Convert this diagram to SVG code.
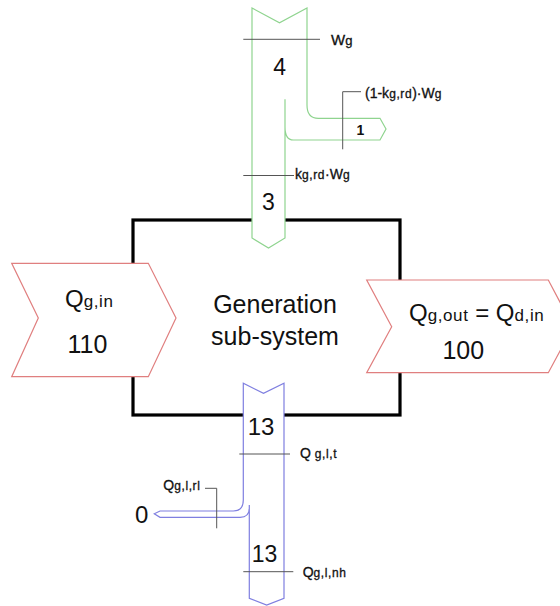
<svg xmlns="http://www.w3.org/2000/svg" width="560" height="606" viewBox="0 0 560 606">
<style>
text{font-family:"Liberation Sans",Arial,sans-serif;fill:#111}
.big{font-size:25px}
.num{font-size:23px}
.sm{font-size:14px}
.sub{font-size:12px;letter-spacing:0.6px}
.lbl{stroke:#111;stroke-width:0.3}
.red{fill:#fff;stroke:#e07f7f;stroke-width:1.2}
.grn{fill:none;stroke:#8fd48f;stroke-width:1.2}
.blu{fill:none;stroke:#7f7fe0;stroke-width:1.2}
.wf{fill:#fff;stroke:none}
.lead{fill:none;stroke:#555;stroke-width:1}
</style>
<rect width="560" height="606" fill="#fff"/>
<g id="subsystem">
<rect x="133" y="220" width="267" height="195" fill="none" stroke="#000" stroke-width="3.2"/>
<text class="big" x="275" y="313" text-anchor="middle">Generation</text>
<text class="big" x="275" y="345" text-anchor="middle">sub-system</text>
</g>
<g id="flow-in">
<polygon class="red" points="11.7,263.3 148.3,263.3 176,318 148.3,376.7 11.7,376.7 38.3,318"/>
<text x="65" y="306.5"><tspan style="font-size:24px">Q</tspan><tspan style="font-size:17px;letter-spacing:0.6px">g,in</tspan></text>
<text class="big" x="87.5" y="353.3" text-anchor="middle">110</text>
</g>
<g id="flow-out">
<polygon class="red" points="366.7,280 548.3,280 573,326.7 548.3,372.7 366.7,372.7 391.7,326.7"/>
<text x="409" y="320.7"><tspan style="font-size:24px">Q</tspan><tspan style="font-size:17px;letter-spacing:0.6px">g,out</tspan><tspan style="font-size:24px"> = Q</tspan><tspan style="font-size:17px;letter-spacing:0.6px">d,in</tspan></text>
<text class="big" x="463.3" y="359.3" text-anchor="middle">100</text>
</g>
<g id="flow-auxiliary">
<path class="wf" d="M252,8 L279.5,22.7 L307,8 V105 Q307,118.3 318.3,118.3 H380 L386,129 L380,140 H293 Q285,140 285,127 V238 L268.5,248 L252,238 Z"/>
<path class="grn" d="M285,99.3 V238 L268.5,248 L252,238 V8 L279.5,22.7 L307,8 V105 Q307,118.3 318.3,118.3 H380 L386,129 L380,140 H293.3 Q285,140 285,127"/>
<text class="num" x="279.7" y="75" text-anchor="middle">4</text>
<text class="num" x="268.3" y="210" text-anchor="middle">3</text>
<text class="sm" x="360.5" y="135" text-anchor="middle" font-weight="bold">1</text>
</g>
<g id="flow-losses">
<path class="wf" d="M243.3,383.3 L263.5,393.3 L284,383.3 V598.3 L266.7,605 L249.3,598.3 V517.3 H160 L154.3,513.5 L160,511 H233.3 Q243.3,511 243.3,500 Z"/>
<path class="blu" d="M249.3,505 V598.3 L266.7,605 L284,598.3 V383.3 L263.5,393.3 L243.3,383.3 V500 Q243.3,511 233.3,511 H160 L154.3,513.8 L160,517.3 H240 Q249.3,517.3 249.3,508"/>
<text x="261" y="435" text-anchor="middle" style="font-size:24px">13</text>
<text class="num" x="264.5" y="561.7" text-anchor="middle">13</text>
<text x="141.7" y="523.3" text-anchor="middle" style="font-size:24px">0</text>
</g>
<g id="connectors">
<line class="lead" x1="243.3" y1="39.3" x2="320" y2="39.3"/>
<polyline class="lead" points="361,91.7 342.7,91.7 342.7,149.3"/>
<line class="lead" x1="243.3" y1="175.5" x2="294" y2="175.5"/>
<line class="lead" x1="239.3" y1="454" x2="290" y2="454"/>
<line class="lead" x1="243.3" y1="571.7" x2="293.3" y2="571.7"/>
<polyline class="lead" points="205,488.3 216.7,488.3 216.7,528.3"/>
</g>
<g id="labels">
<text class="lbl" x="331" y="45"><tspan style="font-size:15px">W</tspan><tspan style="font-size:13px">g</tspan></text>
<text class="lbl" x="365" y="98.3"><tspan class="sm">(1-k</tspan><tspan class="sub">g,rd</tspan><tspan class="sm">)·W</tspan><tspan class="sub">g</tspan></text>
<text class="lbl" x="295" y="179.3"><tspan class="sm">k</tspan><tspan class="sub">g,rd</tspan><tspan class="sm">·W</tspan><tspan class="sub">g</tspan></text>
<text class="lbl" x="300" y="458.3"><tspan class="sm">Q </tspan><tspan class="sub">g,l,t</tspan></text>
<text class="lbl" x="302.7" y="576.7"><tspan class="sm">Q</tspan><tspan class="sub">g,l,nh</tspan></text>
<text class="lbl" x="163.3" y="490"><tspan class="sm">Q</tspan><tspan class="sub">g,l,rl</tspan></text>
</g>
</svg>
